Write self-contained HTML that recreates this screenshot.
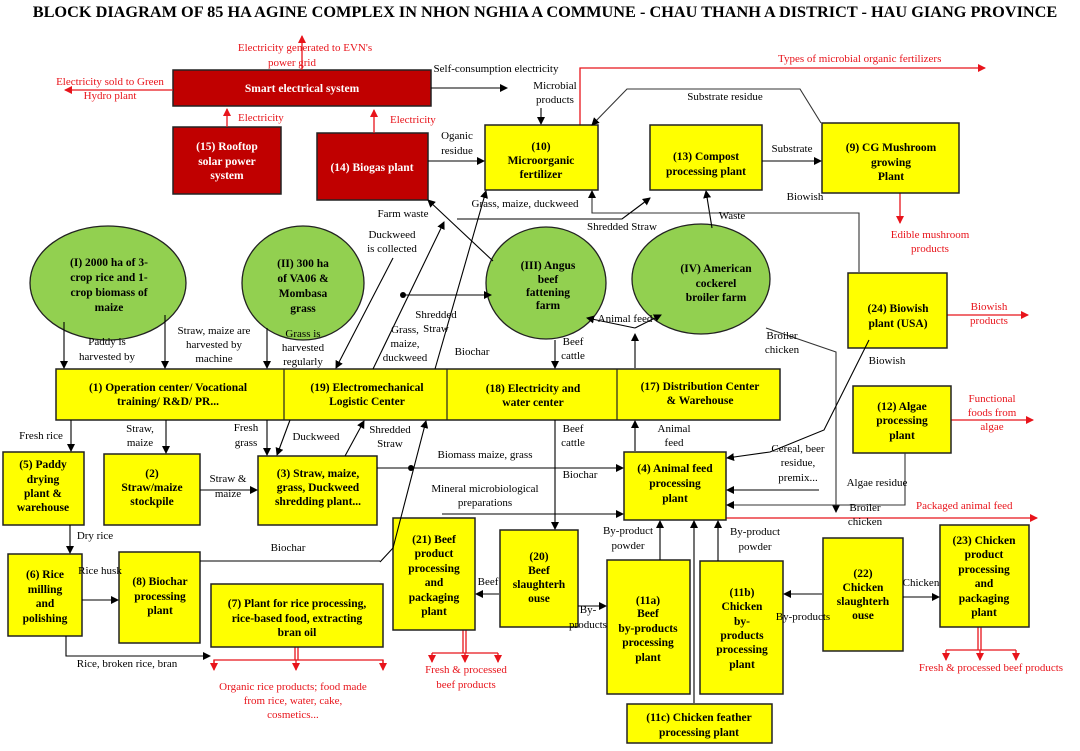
<!DOCTYPE html>
<html><head><meta charset="utf-8"><style>
body{margin:0;background:#fff}
svg{display:block}
text{font-family:"Liberation Serif",serif;font-size:11px}
.b{font-weight:bold;font-size:11.5px}
.r{fill:#e8141b}
.w{fill:#fff;font-weight:bold;font-size:11.5px}
</style></head><body>
<svg width="1080" height="751" viewBox="0 0 1080 751" xmlns="http://www.w3.org/2000/svg">
<defs>
<marker id="a" markerWidth="8" markerHeight="8" refX="7" refY="4" orient="auto" markerUnits="userSpaceOnUse"><path d="M0,0L8,4L0,8z" fill="#000"/></marker>
<marker id="ar" markerWidth="8" markerHeight="8" refX="7" refY="4" orient="auto" markerUnits="userSpaceOnUse"><path d="M0,0L8,4L0,8z" fill="#e8141b"/></marker>
</defs>
<text x="545" y="17" text-anchor="middle" style="font-size:16.3px;font-weight:bold">BLOCK DIAGRAM OF 85 HA AGINE COMPLEX IN NHON NGHIA A COMMUNE - CHAU THANH A DISTRICT - HAU GIANG PROVINCE</text>

<g stroke="#222" stroke-width="1.5" fill="#c00000">
<rect x="173" y="70" width="258" height="36"/>
<rect x="173" y="127" width="108" height="67"/>
<rect x="317" y="133" width="111" height="67"/>
</g>
<text class="w" x="302" y="92" text-anchor="middle">Smart electrical system</text>
<text class="w" x="227" y="150" text-anchor="middle">(15) Rooftop</text>
<text class="w" x="227" y="165" text-anchor="middle">solar power</text>
<text class="w" x="227" y="179" text-anchor="middle">system</text>
<text class="w" x="372" y="171" text-anchor="middle">(14) Biogas plant</text>

<g stroke="#e8141b" stroke-width="1.3" fill="none">
<line x1="302" y1="70" x2="302" y2="36" marker-end="url(#ar)"/>
<line x1="173" y1="90" x2="65" y2="90" marker-end="url(#ar)"/>
<line x1="227" y1="127" x2="227" y2="109" marker-end="url(#ar)"/>
<line x1="374" y1="133" x2="374" y2="110" marker-end="url(#ar)"/>
<polyline points="580,125 580,68 985,68" marker-end="url(#ar)"/>
<line x1="900" y1="193" x2="900" y2="223" marker-end="url(#ar)"/>
<line x1="947" y1="315" x2="1028" y2="315" marker-end="url(#ar)"/>
<line x1="951" y1="420" x2="1033" y2="420" marker-end="url(#ar)"/>
<line x1="726" y1="518" x2="1037" y2="518" marker-end="url(#ar)"/>
<line x1="295" y1="647" x2="295" y2="660"/><line x1="298" y1="647" x2="298" y2="660"/>
<polyline points="214,668 214,660 383,660 383,668"/>
<line x1="214" y1="660" x2="214" y2="670" marker-end="url(#ar)"/><line x1="296" y1="660" x2="296" y2="670" marker-end="url(#ar)"/><line x1="383" y1="660" x2="383" y2="670" marker-end="url(#ar)"/>
<line x1="463" y1="630" x2="463" y2="653"/><line x1="466" y1="630" x2="466" y2="653"/>
<polyline points="432,653 498,653"/>
<line x1="432" y1="653" x2="432" y2="662" marker-end="url(#ar)"/><line x1="465" y1="653" x2="465" y2="662" marker-end="url(#ar)"/><line x1="498" y1="653" x2="498" y2="662" marker-end="url(#ar)"/>
<line x1="978" y1="627" x2="978" y2="650"/><line x1="981" y1="627" x2="981" y2="650"/>
<polyline points="946,650 1016,650"/>
<line x1="946" y1="650" x2="946" y2="660" marker-end="url(#ar)"/><line x1="980" y1="650" x2="980" y2="660" marker-end="url(#ar)"/><line x1="1016" y1="650" x2="1016" y2="660" marker-end="url(#ar)"/>
</g>
<text class="r" x="305" y="51" text-anchor="middle">Electricity generated to EVN's</text>
<text class="r" x="292" y="66" text-anchor="middle">power grid</text>
<text class="r" x="110" y="85" text-anchor="middle">Electricity sold to Green</text>
<text class="r" x="110" y="99" text-anchor="middle">Hydro plant</text>
<text class="r" x="238" y="121">Electricity</text>
<text class="r" x="390" y="123">Electricity</text>
<text class="r" x="778" y="62">Types of microbial organic fertilizers</text>
<text class="r" x="930" y="238" text-anchor="middle">Edible mushroom</text>
<text class="r" x="930" y="252" text-anchor="middle">products</text>
<text class="r" x="989" y="310" text-anchor="middle">Biowish</text>
<text class="r" x="989" y="324" text-anchor="middle">products</text>
<text class="r" x="992" y="402" text-anchor="middle">Functional</text>
<text class="r" x="992" y="416" text-anchor="middle">foods from</text>
<text class="r" x="992" y="430" text-anchor="middle">algae</text>
<text class="r" x="916" y="509">Packaged animal feed</text>
<text class="r" x="293" y="690" text-anchor="middle">Organic rice products; food made</text>
<text class="r" x="293" y="704" text-anchor="middle">from rice, water, cake,</text>
<text class="r" x="293" y="718" text-anchor="middle">cosmetics...</text>
<text class="r" x="466" y="673" text-anchor="middle">Fresh &amp; processed</text>
<text class="r" x="466" y="688" text-anchor="middle">beef products</text>
<text class="r" x="991" y="671" text-anchor="middle">Fresh &amp; processed beef products</text>

<g fill="#92d050" stroke="#222" stroke-width="1.3">
<ellipse cx="108" cy="283" rx="78" ry="57"/>
<ellipse cx="303" cy="283" rx="61" ry="57"/>
<ellipse cx="546" cy="283" rx="60" ry="56"/>
<ellipse cx="701" cy="279" rx="69" ry="55"/>
</g>
<text class="b" x="109" y="266" text-anchor="middle">(I) 2000 ha of 3-</text>
<text class="b" x="109" y="281" text-anchor="middle">crop rice and 1-</text>
<text class="b" x="109" y="296" text-anchor="middle">crop biomass of</text>
<text class="b" x="109" y="311" text-anchor="middle">maize</text>
<text class="b" x="303" y="267" text-anchor="middle">(II) 300 ha</text>
<text class="b" x="303" y="282" text-anchor="middle">of VA06 &amp;</text>
<text class="b" x="303" y="297" text-anchor="middle">Mombasa</text>
<text class="b" x="303" y="312" text-anchor="middle">grass</text>
<text class="b" x="548" y="269" text-anchor="middle">(III) Angus</text>
<text class="b" x="548" y="283" text-anchor="middle">beef</text>
<text class="b" x="548" y="296" text-anchor="middle">fattening</text>
<text class="b" x="548" y="309" text-anchor="middle">farm</text>
<text class="b" x="716" y="272" text-anchor="middle">(IV) American</text>
<text class="b" x="716" y="287" text-anchor="middle">cockerel</text>
<text class="b" x="716" y="301" text-anchor="middle">broiler farm</text>

<g fill="#ffff00" stroke="#222" stroke-width="1.5">
<rect x="485" y="125" width="113" height="65"/>
<rect x="650" y="125" width="112" height="65"/>
<rect x="822" y="123" width="137" height="70"/>
<rect x="848" y="273" width="99" height="75"/>
<rect x="56" y="369" width="724" height="51"/>
<rect x="853" y="386" width="98" height="67"/>
<rect x="3" y="452" width="81" height="73"/>
<rect x="104" y="454" width="96" height="71"/>
<rect x="258" y="456" width="119" height="69"/>
<rect x="624" y="452" width="102" height="68"/>
<rect x="8" y="554" width="74" height="82"/>
<rect x="119" y="552" width="81" height="91"/>
<rect x="211" y="584" width="172" height="63"/>
<rect x="393" y="518" width="82" height="112"/>
<rect x="500" y="530" width="78" height="97"/>
<rect x="607" y="560" width="83" height="134"/>
<rect x="700" y="561" width="83" height="133"/>
<rect x="627" y="704" width="145" height="39"/>
<rect x="823" y="538" width="80" height="113"/>
<rect x="940" y="525" width="89" height="102"/>
</g>
<g stroke="#222" stroke-width="1.2"><line x1="284" y1="369" x2="284" y2="420"/><line x1="447" y1="369" x2="447" y2="420"/><line x1="617" y1="369" x2="617" y2="420"/></g>

<text class="b" x="541" y="150" text-anchor="middle">(10)</text>
<text class="b" x="541" y="164" text-anchor="middle">Microorganic</text>
<text class="b" x="541" y="178" text-anchor="middle">fertilizer</text>
<text class="b" x="706" y="160" text-anchor="middle">(13) Compost</text>
<text class="b" x="706" y="175" text-anchor="middle">processing plant</text>
<text class="b" x="891" y="151" text-anchor="middle">(9) CG Mushroom</text>
<text class="b" x="891" y="166" text-anchor="middle">growing</text>
<text class="b" x="891" y="180" text-anchor="middle">Plant</text>
<text class="b" x="898" y="312" text-anchor="middle">(24) Biowish</text>
<text class="b" x="898" y="327" text-anchor="middle">plant (USA)</text>
<text class="b" x="168" y="391" text-anchor="middle">(1) Operation center/ Vocational</text>
<text class="b" x="168" y="405" text-anchor="middle">training/ R&amp;D/ PR...</text>
<text class="b" x="367" y="391" text-anchor="middle">(19) Electromechanical</text>
<text class="b" x="367" y="405" text-anchor="middle">Logistic Center</text>
<text class="b" x="533" y="392" text-anchor="middle">(18) Electricity and</text>
<text class="b" x="533" y="406" text-anchor="middle">water center</text>
<text class="b" x="700" y="390" text-anchor="middle">(17) Distribution Center</text>
<text class="b" x="700" y="404" text-anchor="middle">&amp; Warehouse</text>
<text class="b" x="902" y="410" text-anchor="middle">(12) Algae</text>
<text class="b" x="902" y="424" text-anchor="middle">processing</text>
<text class="b" x="902" y="439" text-anchor="middle">plant</text>
<text class="b" x="43" y="468" text-anchor="middle">(5) Paddy</text>
<text class="b" x="43" y="483" text-anchor="middle">drying</text>
<text class="b" x="43" y="497" text-anchor="middle">plant &amp;</text>
<text class="b" x="43" y="511" text-anchor="middle">warehouse</text>
<text class="b" x="152" y="477" text-anchor="middle">(2)</text>
<text class="b" x="152" y="491" text-anchor="middle">Straw/maize</text>
<text class="b" x="152" y="505" text-anchor="middle">stockpile</text>
<text class="b" x="318" y="477" text-anchor="middle">(3) Straw, maize,</text>
<text class="b" x="318" y="491" text-anchor="middle">grass, Duckweed</text>
<text class="b" x="318" y="505" text-anchor="middle">shredding plant...</text>
<text class="b" x="675" y="472" text-anchor="middle">(4) Animal feed</text>
<text class="b" x="675" y="487" text-anchor="middle">processing</text>
<text class="b" x="675" y="502" text-anchor="middle">plant</text>
<text class="b" x="45" y="578" text-anchor="middle">(6) Rice</text>
<text class="b" x="45" y="593" text-anchor="middle">milling</text>
<text class="b" x="45" y="607" text-anchor="middle">and</text>
<text class="b" x="45" y="622" text-anchor="middle">polishing</text>
<text class="b" x="160" y="585" text-anchor="middle">(8) Biochar</text>
<text class="b" x="160" y="600" text-anchor="middle">processing</text>
<text class="b" x="160" y="614" text-anchor="middle">plant</text>
<text class="b" x="297" y="607" text-anchor="middle">(7) Plant for rice processing,</text>
<text class="b" x="297" y="622" text-anchor="middle">rice-based food, extracting</text>
<text class="b" x="297" y="636" text-anchor="middle">bran oil</text>
<text class="b" x="434" y="543" text-anchor="middle">(21) Beef</text>
<text class="b" x="434" y="557" text-anchor="middle">product</text>
<text class="b" x="434" y="572" text-anchor="middle">processing</text>
<text class="b" x="434" y="586" text-anchor="middle">and</text>
<text class="b" x="434" y="601" text-anchor="middle">packaging</text>
<text class="b" x="434" y="615" text-anchor="middle">plant</text>
<text class="b" x="539" y="560" text-anchor="middle">(20)</text>
<text class="b" x="539" y="574" text-anchor="middle">Beef</text>
<text class="b" x="539" y="588" text-anchor="middle">slaughterh</text>
<text class="b" x="539" y="602" text-anchor="middle">ouse</text>
<text class="b" x="648" y="604" text-anchor="middle">(11a)</text>
<text class="b" x="648" y="617" text-anchor="middle">Beef</text>
<text class="b" x="648" y="632" text-anchor="middle">by-products</text>
<text class="b" x="648" y="646" text-anchor="middle">processing</text>
<text class="b" x="648" y="661" text-anchor="middle">plant</text>
<text class="b" x="742" y="596" text-anchor="middle">(11b)</text>
<text class="b" x="742" y="610" text-anchor="middle">Chicken</text>
<text class="b" x="742" y="625" text-anchor="middle">by-</text>
<text class="b" x="742" y="639" text-anchor="middle">products</text>
<text class="b" x="742" y="653" text-anchor="middle">processing</text>
<text class="b" x="742" y="668" text-anchor="middle">plant</text>
<text class="b" x="699" y="721" text-anchor="middle">(11c) Chicken feather</text>
<text class="b" x="699" y="736" text-anchor="middle">processing plant</text>
<text class="b" x="863" y="577" text-anchor="middle">(22)</text>
<text class="b" x="863" y="591" text-anchor="middle">Chicken</text>
<text class="b" x="863" y="605" text-anchor="middle">slaughterh</text>
<text class="b" x="863" y="619" text-anchor="middle">ouse</text>
<text class="b" x="984" y="544" text-anchor="middle">(23) Chicken</text>
<text class="b" x="984" y="558" text-anchor="middle">product</text>
<text class="b" x="984" y="573" text-anchor="middle">processing</text>
<text class="b" x="984" y="587" text-anchor="middle">and</text>
<text class="b" x="984" y="602" text-anchor="middle">packaging</text>
<text class="b" x="984" y="616" text-anchor="middle">plant</text>

<g stroke="#000" stroke-width="1.1" fill="none">
<line x1="431" y1="88" x2="507" y2="88" marker-end="url(#a)"/>
<line x1="541" y1="108" x2="541" y2="124" marker-end="url(#a)"/>
<line x1="428" y1="161" x2="484" y2="161" marker-end="url(#a)"/>
<polyline points="821,123 800,89 627,89 592,125" stroke="#333" marker-end="url(#a)"/>
<line x1="762" y1="161" x2="821" y2="161" marker-end="url(#a)"/>
<line x1="712" y1="228" x2="706" y2="191" marker-end="url(#a)"/>
<polyline points="859,272 859,213 592,213 592,191" stroke="#333" marker-end="url(#a)"/>
<polyline points="457,219 622,219 650,198" marker-end="url(#a)"/>
<line x1="493" y1="261" x2="428" y2="200" marker-end="url(#a)"/>
<line x1="435" y1="369" x2="486" y2="191" marker-end="url(#a)"/>
<line x1="373" y1="369" x2="444" y2="222" marker-end="url(#a)"/>
<line x1="403" y1="295" x2="491" y2="295" marker-end="url(#a)"/>
<line x1="393" y1="258" x2="336" y2="368" marker-end="url(#a)"/>
<line x1="64" y1="322" x2="64" y2="368" marker-end="url(#a)"/>
<line x1="165" y1="315" x2="165" y2="368" marker-end="url(#a)"/>
<line x1="267" y1="328" x2="267" y2="368" marker-end="url(#a)"/>
<line x1="555" y1="340" x2="555" y2="368" marker-end="url(#a)"/>
<line x1="635" y1="368" x2="635" y2="334" marker-end="url(#a)"/>
<line x1="635" y1="328" x2="587" y2="318" marker-end="url(#a)"/>
<line x1="635" y1="328" x2="661" y2="315" marker-end="url(#a)"/>
<polyline points="766,328 836,352 836,512" stroke="#333" marker-end="url(#a)"/>
<polyline points="869,340 824,430 770,452 727,458" marker-end="url(#a)"/>
<line x1="71" y1="420" x2="71" y2="451" marker-end="url(#a)"/>
<line x1="166" y1="420" x2="166" y2="453" marker-end="url(#a)"/>
<line x1="267" y1="420" x2="267" y2="455" marker-end="url(#a)"/>
<line x1="290" y1="420" x2="277" y2="455" marker-end="url(#a)"/>
<line x1="345" y1="456" x2="364" y2="421" marker-end="url(#a)"/>
<polyline points="380,562 393,548 426,421" marker-end="url(#a)"/>
<line x1="200" y1="490" x2="257" y2="490" marker-end="url(#a)"/>
<line x1="377" y1="468" x2="623" y2="468" marker-end="url(#a)"/>
<line x1="555" y1="420" x2="555" y2="529" marker-end="url(#a)"/>
<line x1="635" y1="451" x2="635" y2="421" marker-end="url(#a)"/>
<line x1="442" y1="514" x2="623" y2="514" marker-end="url(#a)"/>
<line x1="819" y1="490" x2="727" y2="490" marker-end="url(#a)"/>
<polyline points="905,453 905,505 727,505" stroke="#333" marker-end="url(#a)"/>
<line x1="70" y1="525" x2="70" y2="553" marker-end="url(#a)"/>
<polyline points="200,561 380,561"/>
<line x1="82" y1="600" x2="118" y2="600" marker-end="url(#a)"/>
<polyline points="66,636 66,656 210,656" marker-end="url(#a)"/>
<line x1="499" y1="594" x2="476" y2="594" marker-end="url(#a)"/>
<line x1="578" y1="606" x2="606" y2="606" marker-end="url(#a)"/>
<line x1="660" y1="560" x2="660" y2="521" marker-end="url(#a)"/>
<line x1="694" y1="703" x2="694" y2="521" marker-end="url(#a)"/>
<line x1="718" y1="561" x2="718" y2="521" marker-end="url(#a)"/>
<line x1="822" y1="594" x2="784" y2="594" marker-end="url(#a)"/>
<line x1="903" y1="597" x2="939" y2="597" marker-end="url(#a)"/>
</g>
<circle cx="403" cy="295" r="3" fill="#000"/>
<circle cx="411" cy="468" r="3" fill="#000"/>

<g>
<text x="496" y="72" text-anchor="middle">Self-consumption electricity</text>
<text x="555" y="89" text-anchor="middle">Microbial</text>
<text x="555" y="103" text-anchor="middle">products</text>
<text x="457" y="139" text-anchor="middle">Oganic</text>
<text x="457" y="154" text-anchor="middle">residue</text>
<text x="725" y="100" text-anchor="middle">Substrate residue</text>
<text x="792" y="152" text-anchor="middle">Substrate</text>
<text x="805" y="200" text-anchor="middle">Biowish</text>
<text x="732" y="219" text-anchor="middle">Waste</text>
<text x="403" y="217" text-anchor="middle">Farm waste</text>
<text x="525" y="207" text-anchor="middle">Grass, maize, duckweed</text>
<text x="622" y="230" text-anchor="middle">Shredded Straw</text>
<text x="392" y="238" text-anchor="middle">Duckweed</text>
<text x="392" y="252" text-anchor="middle">is collected</text>
<text x="436" y="318" text-anchor="middle">Shredded</text>
<text x="436" y="332" text-anchor="middle">Straw</text>
<text x="405" y="333" text-anchor="middle">Grass,</text>
<text x="405" y="347" text-anchor="middle">maize,</text>
<text x="405" y="361" text-anchor="middle">duckweed</text>
<text x="472" y="355" text-anchor="middle">Biochar</text>
<text x="625" y="322" text-anchor="middle">Animal feed</text>
<text x="573" y="345" text-anchor="middle">Beef</text>
<text x="573" y="359" text-anchor="middle">cattle</text>
<text x="782" y="339" text-anchor="middle">Broiler</text>
<text x="782" y="353" text-anchor="middle">chicken</text>
<text x="887" y="364" text-anchor="middle">Biowish</text>
<text x="107" y="345" text-anchor="middle">Paddy is</text>
<text x="107" y="360" text-anchor="middle">harvested by</text>
<text x="214" y="334" text-anchor="middle">Straw, maize are</text>
<text x="214" y="348" text-anchor="middle">harvested by</text>
<text x="214" y="362" text-anchor="middle">machine</text>
<text x="303" y="337" text-anchor="middle">Grass is</text>
<text x="303" y="351" text-anchor="middle">harvested</text>
<text x="303" y="365" text-anchor="middle">regularly</text>
<text x="41" y="439" text-anchor="middle">Fresh rice</text>
<text x="140" y="432" text-anchor="middle">Straw,</text>
<text x="140" y="446" text-anchor="middle">maize</text>
<text x="246" y="431" text-anchor="middle">Fresh</text>
<text x="246" y="446" text-anchor="middle">grass</text>
<text x="316" y="440" text-anchor="middle">Duckweed</text>
<text x="390" y="433" text-anchor="middle">Shredded</text>
<text x="390" y="447" text-anchor="middle">Straw</text>
<text x="485" y="458" text-anchor="middle">Biomass maize, grass</text>
<text x="485" y="492" text-anchor="middle">Mineral microbiological</text>
<text x="485" y="506" text-anchor="middle">preparations</text>
<text x="573" y="432" text-anchor="middle">Beef</text>
<text x="573" y="446" text-anchor="middle">cattle</text>
<text x="580" y="478" text-anchor="middle">Biochar</text>
<text x="674" y="432" text-anchor="middle">Animal</text>
<text x="674" y="446" text-anchor="middle">feed</text>
<text x="798" y="452" text-anchor="middle">Cereal, beer</text>
<text x="798" y="466" text-anchor="middle">residue,</text>
<text x="798" y="481" text-anchor="middle">premix...</text>
<text x="877" y="486" text-anchor="middle">Algae residue</text>
<text x="865" y="511" text-anchor="middle">Broiler</text>
<text x="865" y="525" text-anchor="middle">chicken</text>
<text x="228" y="482" text-anchor="middle">Straw &amp;</text>
<text x="228" y="497" text-anchor="middle">maize</text>
<text x="95" y="539" text-anchor="middle">Dry rice</text>
<text x="288" y="551" text-anchor="middle">Biochar</text>
<text x="100" y="574" text-anchor="middle">Rice husk</text>
<text x="127" y="667" text-anchor="middle">Rice, broken rice, bran</text>
<text x="488" y="585" text-anchor="middle">Beef</text>
<text x="588" y="613" text-anchor="middle">By-</text>
<text x="588" y="628" text-anchor="middle">products</text>
<text x="628" y="534" text-anchor="middle">By-product</text>
<text x="628" y="549" text-anchor="middle">powder</text>
<text x="755" y="535" text-anchor="middle">By-product</text>
<text x="755" y="550" text-anchor="middle">powder</text>
<text x="803" y="620" text-anchor="middle">By-products</text>
<text x="921" y="586" text-anchor="middle">Chicken</text>
</g>
</svg>
</body></html>
